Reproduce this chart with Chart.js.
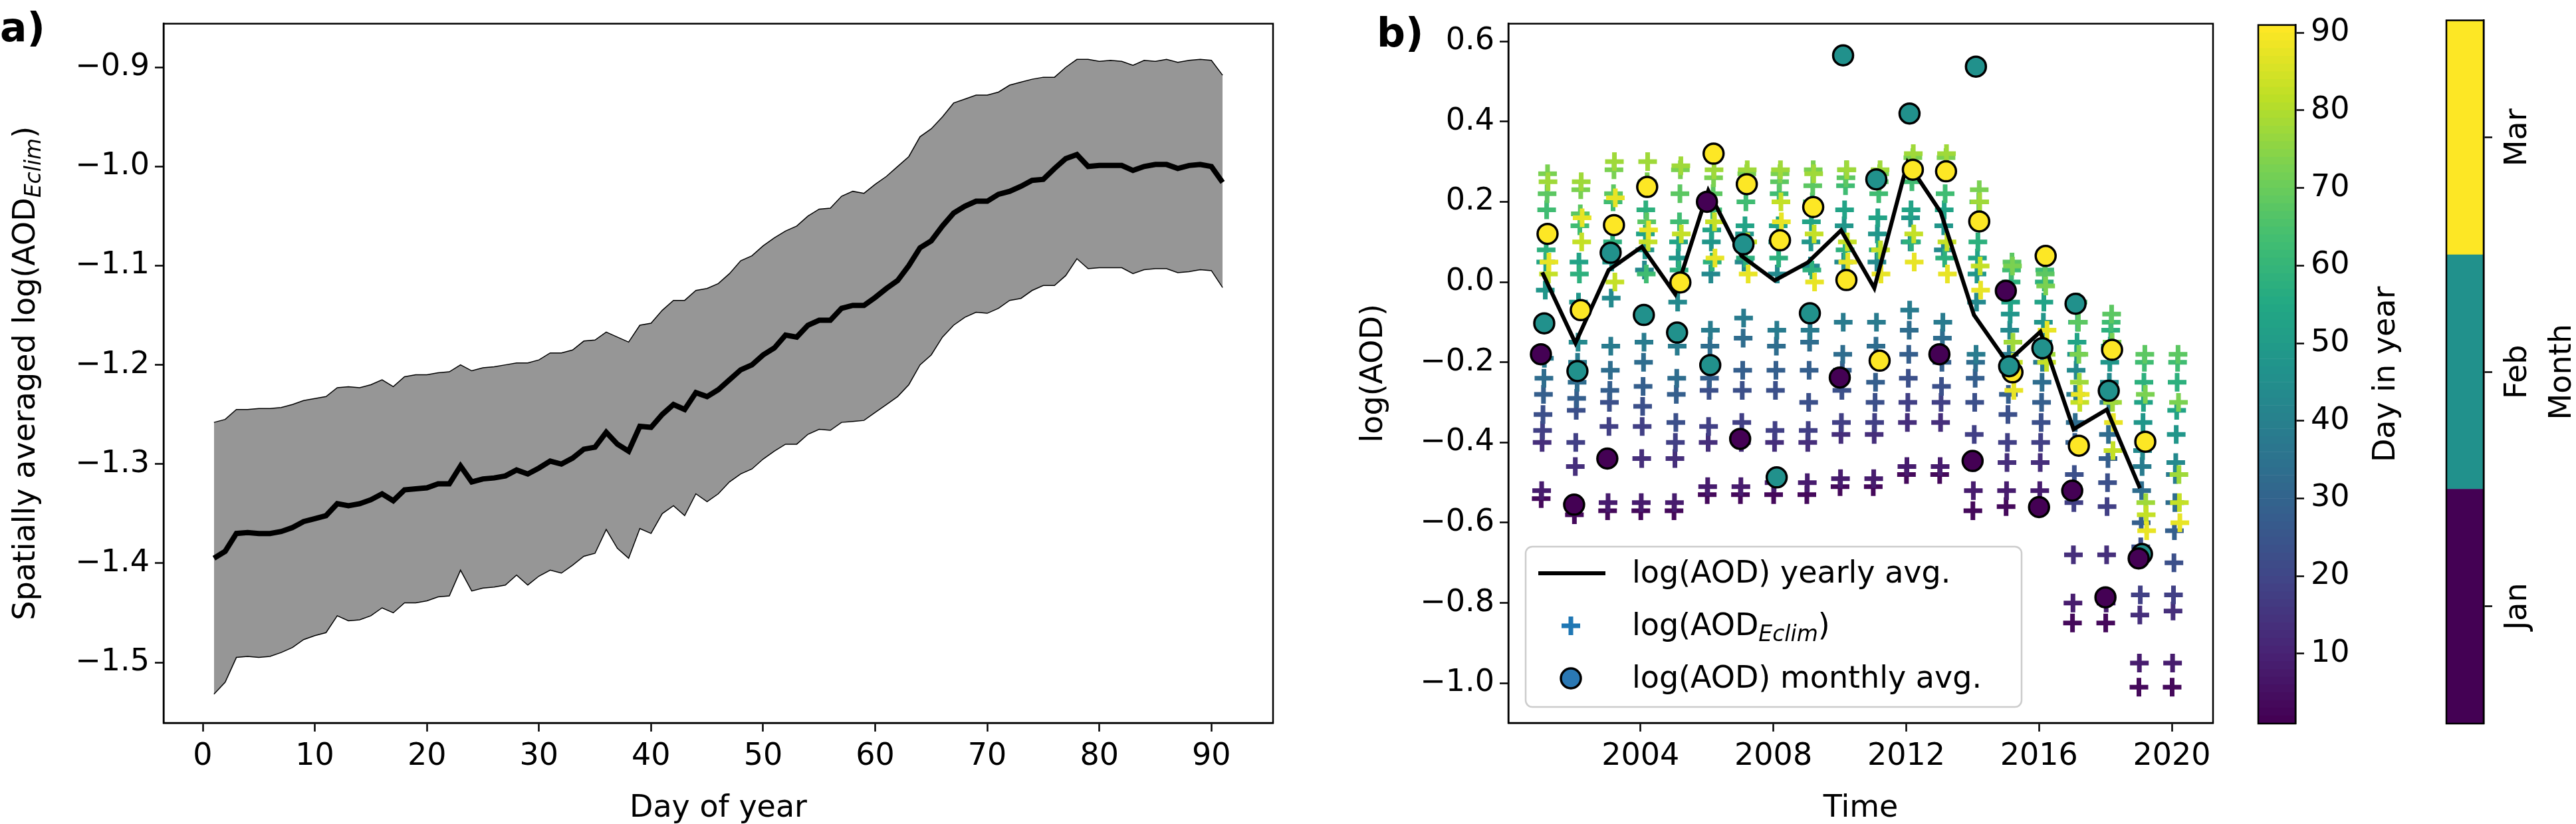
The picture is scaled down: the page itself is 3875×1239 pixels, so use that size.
<!DOCTYPE html>
<html lang="en">
<head>
<meta charset="UTF-8">
<title>log(AOD) climatology</title>
<script src="https://cdn.jsdelivr.net/npm/chart.js"></script>
<style>
  body { margin: 0; background: #fff; }
  #wrap { position: relative; width: 3875px; height: 1239px; }
  canvas { position: absolute; top: 0; }
</style>
</head>
<body>
<div id="wrap">
  <canvas id="chartA" style="left:0px" width="1960" height="1239"></canvas>
  <canvas id="chartB" style="left:2000px" width="1350" height="1239"></canvas>
  <canvas id="cbDay" style="left:3380px" width="250" height="1239"></canvas>
  <canvas id="cbMonth" style="left:3660px" width="215" height="1239"></canvas>
</div>
<script>
// ---- panel a: day-of-year climatology ----
const days = Array.from({length: 91}, (_, i) => i + 1);
const climMean = [-1.395,-1.388,-1.37,-1.369,-1.37,-1.37,-1.368,-1.364,-1.358,-1.355,-1.352,-1.34,-1.342,-1.34,-1.336,-1.33,-1.337,-1.326,-1.325,-1.324,
  -1.32,-1.32,-1.302,-1.318,-1.315,-1.314,-1.312,-1.306,-1.31,-1.304,-1.297,-1.3,-1.294,-1.285,-1.283,-1.268,-1.28,-1.287,-1.262,-1.263,
  -1.25,-1.24,-1.245,-1.228,-1.232,-1.225,-1.215,-1.205,-1.2,-1.19,-1.183,-1.17,-1.172,-1.16,-1.155,-1.155,-1.143,-1.14,-1.14,-1.132,
  -1.123,-1.115,-1.1,-1.082,-1.075,-1.06,-1.047,-1.04,-1.035,-1.035,-1.028,-1.025,-1.02,-1.014,-1.013,-1.002,-0.992,-0.988,-1.0,-0.999,
  -0.999,-0.999,-1.004,-1.0,-0.998,-0.998,-1.002,-0.999,-0.998,-1.0,-1.016];
const climUpper = [-1.258,-1.255,-1.245,-1.245,-1.244,-1.244,-1.243,-1.24,-1.236,-1.234,-1.232,-1.223,-1.222,-1.223,-1.22,-1.215,-1.222,-1.212,-1.21,-1.21,
  -1.208,-1.207,-1.2,-1.206,-1.203,-1.202,-1.2,-1.198,-1.198,-1.195,-1.188,-1.188,-1.185,-1.176,-1.175,-1.167,-1.172,-1.177,-1.16,-1.158,
  -1.145,-1.135,-1.135,-1.125,-1.123,-1.118,-1.108,-1.095,-1.09,-1.08,-1.072,-1.065,-1.06,-1.05,-1.043,-1.042,-1.03,-1.025,-1.027,-1.018,
  -1.01,-1.0,-0.99,-0.97,-0.962,-0.95,-0.936,-0.932,-0.928,-0.928,-0.925,-0.918,-0.915,-0.912,-0.91,-0.91,-0.9,-0.892,-0.892,-0.894,
  -0.893,-0.894,-0.898,-0.893,-0.894,-0.892,-0.895,-0.893,-0.892,-0.893,-0.908];
const climLower = [-1.532,-1.52,-1.495,-1.494,-1.495,-1.494,-1.49,-1.485,-1.477,-1.473,-1.47,-1.453,-1.458,-1.457,-1.453,-1.445,-1.45,-1.44,-1.44,-1.438,
  -1.434,-1.433,-1.407,-1.428,-1.425,-1.424,-1.422,-1.412,-1.422,-1.413,-1.407,-1.41,-1.402,-1.393,-1.39,-1.366,-1.385,-1.395,-1.365,-1.37,
  -1.35,-1.342,-1.352,-1.33,-1.338,-1.33,-1.318,-1.31,-1.305,-1.295,-1.287,-1.28,-1.28,-1.27,-1.265,-1.266,-1.258,-1.257,-1.256,-1.248,
  -1.24,-1.232,-1.22,-1.2,-1.19,-1.172,-1.16,-1.152,-1.147,-1.148,-1.143,-1.135,-1.133,-1.125,-1.12,-1.12,-1.11,-1.093,-1.103,-1.102,
  -1.102,-1.102,-1.108,-1.104,-1.103,-1.103,-1.107,-1.106,-1.104,-1.105,-1.122];
const dayTicks = [0, 10, 20, 30, 40, 50, 60, 70, 80, 90];
const climTicks = [-1.5, -1.4, -1.3, -1.2, -1.1, -1.0, -0.9];

// ---- panel b: yearly series ----
const years = [2001,2002,2003,2004,2005,2006,2007,2008,2009,2010,2011,2012,2013,2014,2015,2016,2017,2018,2019,2020];
const yearlyAvg = [0.024,-0.152,0.03,0.088,-0.03,0.228,0.065,0.004,0.049,0.129,-0.015,0.298,0.174,-0.082,-0.2,-0.124,-0.367,-0.318,-0.514,null];
const janAvg = [-0.18,-0.555,-0.44,null,null,0.2,-0.391,null,null,-0.238,null,null,-0.18,-0.446,-0.022,-0.561,-0.52,-0.786,-0.689,null];
const febAvg = [-0.103,-0.222,0.073,-0.082,-0.126,-0.207,0.094,-0.487,-0.078,0.565,0.256,0.42,null,0.537,-0.21,-0.165,-0.054,-0.271,-0.678,null];
const marAvg = [0.12,-0.07,0.142,0.237,-0.001,0.32,0.244,0.104,0.187,0.005,-0.196,0.28,0.276,0.151,-0.225,0.065,-0.408,-0.169,-0.398,null];
const plusDays = [3, 8, 13, 18, 23, 28, 33, 38, 43, 48, 53, 58, 63, 68, 73, 78, 83, 88];
const plusValues = [
  [-0.54,-0.52,-0.40,-0.37,-0.33,-0.28,-0.24,-0.19,-0.10,-0.02,0.05,0.08,0.18,0.22,0.27,0.25,0.02,0.05],
  [-0.58,-0.56,-0.46,-0.40,-0.32,-0.29,-0.25,-0.20,-0.15,-0.05,0.05,0.02,0.14,0.17,0.23,0.25,0.10,0.16],
  [-0.57,-0.55,-0.44,-0.36,-0.30,-0.27,-0.22,-0.16,-0.04,0.05,0.08,0.10,0.20,0.22,0.28,0.30,0.00,0.21],
  [-0.57,-0.55,-0.44,-0.36,-0.31,-0.26,-0.20,-0.15,0.03,0.08,0.12,0.18,0.02,0.15,0.25,0.30,0.10,0.13],
  [-0.57,-0.55,-0.44,-0.40,-0.35,-0.28,-0.24,-0.16,-0.05,0.06,0.10,0.03,0.15,0.22,0.28,0.29,0.12,0.00],
  [-0.53,-0.51,-0.40,-0.36,-0.27,-0.24,-0.16,-0.12,0.02,0.10,0.13,0.05,0.18,0.22,0.26,0.28,0.15,0.06],
  [-0.53,-0.51,-0.40,-0.35,-0.27,-0.22,-0.14,-0.09,0.05,0.12,0.14,0.06,0.20,0.24,0.27,0.28,0.10,0.02],
  [-0.53,-0.50,-0.40,-0.37,-0.27,-0.22,-0.16,-0.12,0.02,0.10,0.14,0.06,0.22,0.25,0.27,0.28,0.20,0.15],
  [-0.53,-0.50,-0.40,-0.37,-0.30,-0.22,-0.15,-0.12,0.04,0.10,0.15,0.03,0.20,0.24,0.28,0.27,0.12,0.00],
  [-0.51,-0.49,-0.38,-0.35,-0.27,-0.22,-0.18,-0.10,0.05,0.14,0.18,0.08,0.24,0.26,0.28,0.28,0.10,0.05],
  [-0.51,-0.49,-0.38,-0.35,-0.30,-0.25,-0.16,-0.10,0.05,0.12,0.16,0.08,0.22,0.25,0.27,0.28,0.08,0.02],
  [-0.48,-0.46,-0.35,-0.30,-0.24,-0.18,-0.12,-0.07,0.10,0.16,0.18,0.10,0.25,0.28,0.31,0.32,0.12,0.05],
  [-0.48,-0.46,-0.35,-0.30,-0.26,-0.20,-0.14,-0.10,0.08,0.14,0.18,0.06,0.22,0.28,0.31,0.32,0.10,0.02],
  [-0.57,-0.52,-0.45,-0.38,-0.30,-0.24,-0.20,-0.18,-0.05,0.02,0.06,0.10,0.15,0.20,0.23,0.20,0.04,-0.02],
  [-0.56,-0.52,-0.45,-0.40,-0.33,-0.28,-0.22,-0.18,-0.12,-0.08,-0.05,0.00,0.03,0.05,0.04,-0.15,-0.20,-0.27],
  [-0.56,-0.52,-0.45,-0.40,-0.35,-0.30,-0.25,-0.20,-0.15,-0.10,-0.05,0.00,0.03,0.02,-0.01,-0.18,-0.20,-0.12],
  [-0.85,-0.80,-0.68,-0.55,-0.48,-0.40,-0.35,-0.28,-0.22,-0.18,-0.15,-0.10,-0.05,-0.10,-0.18,-0.25,-0.30,-0.28],
  [-0.85,-0.80,-0.68,-0.56,-0.50,-0.44,-0.38,-0.30,-0.25,-0.20,-0.16,-0.12,-0.10,-0.08,-0.15,-0.30,-0.42,-0.35],
  [-1.01,-0.95,-0.83,-0.78,-0.66,-0.60,-0.52,-0.46,-0.42,-0.35,-0.30,-0.25,-0.20,-0.18,-0.28,-0.55,-0.58,-0.62],
  [-1.01,-0.95,-0.82,-0.78,-0.70,-0.62,-0.55,-0.48,-0.45,-0.38,-0.32,-0.25,-0.20,-0.18,-0.30,-0.48,-0.55,-0.60]
];
const yearTicks = [2004, 2008, 2012, 2016, 2020];
const aodTicks = [-1.0, -0.8, -0.6, -0.4, -0.2, 0.0, 0.2, 0.4, 0.6];

// ---- colorbars ----
const dayBarTicks = [10, 20, 30, 40, 50, 60, 70, 80, 90];
const months = ['Jan', 'Feb', 'Mar'];
const monthColors = ['#440154', '#21918c', '#fde725'];

const FONT = "'DejaVu Sans', sans-serif";
Chart.defaults.font.family = FONT;
Chart.defaults.color = '#000';
Chart.defaults.animation = false;
Chart.defaults.devicePixelRatio = 1;
Chart.defaults.plugins.legend.display = false;
Chart.defaults.plugins.tooltip.enabled = false;

const viridisStops = ['#440154','#482475','#414487','#355f8d','#2a788e','#21918c','#22a884','#44bf70','#7ad151','#bddf26','#fde725'];
function viridis(t) {
  t = Math.max(0, Math.min(1, t));
  const p = t * 10, i = Math.min(9, Math.floor(p)), f = p - i;
  const a = viridisStops[i], b = viridisStops[i + 1];
  const c = k => Math.round(parseInt(a.substr(k, 2), 16) * (1 - f) + parseInt(b.substr(k, 2), 16) * f);
  return `rgb(${c(1)},${c(3)},${c(5)})`;
}
const minus = v => (v < 0 ? '\u2212' : '') + Math.abs(v).toFixed(1);
const setTicks = list => scale => { scale.ticks = list.map(v => ({value: v})); };

// frame + extra text
function framePlugin(drawText) {
  return {
    id: 'frame',
    afterDatasetsDraw(chart) {
      const {ctx, chartArea: a} = chart;
      ctx.save();
      ctx.strokeStyle = '#000';
      ctx.lineWidth = 2.5;
      ctx.strokeRect(a.left, a.top, a.right - a.left, a.bottom - a.top);
      ctx.restore();
    },
    afterDraw(chart) { if (drawText) drawText(chart.ctx, chart); }
  };
}
function rotText(ctx, parts, x, y) {
  // parts: [text, font, dy]
  ctx.save();
  ctx.translate(x, y);
  ctx.rotate(-Math.PI / 2);
  ctx.fillStyle = '#000';
  ctx.textBaseline = 'middle';
  let total = 0;
  parts.forEach(p => { ctx.font = p[1]; total += ctx.measureText(p[0]).width; });
  let cx = -total / 2;
  parts.forEach(p => { ctx.font = p[1]; ctx.fillText(p[0], cx, p[2] || 0); cx += ctx.measureText(p[0]).width; });
  ctx.restore();
}
const axisCommon = {
  grid: {drawOnChartArea: false, tickLength: 13, tickWidth: 2.5, color: '#000'},
  border: {color: '#000', width: 2.5}
};

// ---- chart a ----
new Chart(document.getElementById('chartA'), {
  type: 'line',
  data: {
    datasets: [
      {order: 3, data: days.map((d, i) => ({x: d, y: climLower[i]})), borderColor: '#000', borderWidth: 1.5, pointRadius: 0, fill: false},
      {order: 2, data: days.map((d, i) => ({x: d, y: climUpper[i]})), borderColor: '#000', borderWidth: 1.5, pointRadius: 0, fill: '-1', backgroundColor: '#969696'},
      {order: 0, data: days.map((d, i) => ({x: d, y: climMean[i]})), borderColor: '#000', borderWidth: 8, pointRadius: 0, fill: false}
    ]
  },
  options: {
    responsive: false,
    plugins: {filler: {drawTime: 'beforeDatasetsDraw'}},
    layout: {padding: {top: 2, right: 45, left: 0, bottom: 0}},
    scales: {
      x: {type: 'linear', min: -3.5, max: 95.5, afterBuildTicks: setTicks(dayTicks),
          afterFit: s => { s.height = 152; },
          ticks: {font: {size: 46}, padding: 10, maxRotation: 0}, ...axisCommon},
      y: {type: 'linear', min: -1.561, max: -0.856, afterBuildTicks: setTicks(climTicks),
          afterFit: s => { s.width = 246; },
          ticks: {font: {size: 46}, padding: 8, callback: minus}, ...axisCommon}
    }
  },
  plugins: [framePlugin((ctx, chart) => {
    ctx.save();
    ctx.fillStyle = '#000';
    ctx.font = `bold 60px ${FONT}`;
    ctx.textBaseline = 'alphabetic';
    ctx.fillText('a)', 0, 62);
    ctx.font = `46px ${FONT}`;
    ctx.textAlign = 'center';
    ctx.fillText('Day of year', (chart.chartArea.left + chart.chartArea.right) / 2, 1228);
    ctx.restore();
    rotText(ctx, [['Spatially averaged log(AOD', `46px ${FONT}`], ['Eclim', `italic 33px ${FONT}`, 12], [')', `46px ${FONT}`]],
      40, (chart.chartArea.top + chart.chartArea.bottom) / 2);
  })]
});

// ---- chart b ----
const plusPoints = [], plusColors = [];
years.forEach((yr, yi) => plusDays.forEach((d, di) => {
  plusPoints.push({x: yr + d / 365, y: plusValues[yi][di]});
  plusColors.push(viridis((d - 1) / 90));
}));
const monthSet = (vals, off, color) => ({
  type: 'scatter', order: 1,
  data: years.map((yr, i) => vals[i] === null ? null : {x: yr + off, y: vals[i]}).filter(p => p),
  pointRadius: 15, pointBackgroundColor: color, pointBorderColor: '#000', pointBorderWidth: 3.5
});

new Chart(document.getElementById('chartB'), {
  type: 'scatter',
  data: {
    datasets: [
      {type: 'scatter', order: 3, data: plusPoints, pointStyle: 'cross', pointRadius: 14,
       pointBorderColor: plusColors, pointBorderWidth: 7},
      {type: 'line', order: 2, data: years.map((yr, i) => ({x: yr + 0.04, y: yearlyAvg[i]})).filter(p => p.y !== null),
       borderColor: '#000', borderWidth: 6, pointRadius: 0, fill: false, tension: 0},
      monthSet(janAvg, 0.0, monthColors[0]),
      monthSet(febAvg, 0.1, monthColors[1]),
      monthSet(marAvg, 0.2, monthColors[2])
    ]
  },
  options: {
    responsive: false,
    layout: {padding: {top: 9, right: 19, left: 0, bottom: 0}},
    scales: {
      x: {type: 'linear', min: 2000.02, max: 2021.24, afterBuildTicks: setTicks(yearTicks),
          afterFit: s => { s.height = 152; },
          ticks: {font: {size: 46}, padding: 10, maxRotation: 0, callback: v => String(v)}, ...axisCommon},
      y: {type: 'linear', min: -1.099, max: 0.644, afterBuildTicks: setTicks(aodTicks),
          afterFit: s => { s.width = 269; },
          ticks: {font: {size: 46}, padding: 8, callback: minus}, ...axisCommon}
    }
  },
  plugins: [framePlugin((ctx, chart) => {
    const ox = 2000;
    ctx.save();
    ctx.fillStyle = '#000';
    ctx.font = `bold 60px ${FONT}`;
    ctx.fillText('b)', 2071 - ox, 70);
    ctx.font = `46px ${FONT}`;
    ctx.textAlign = 'center';
    ctx.fillText('Time', (chart.chartArea.left + chart.chartArea.right) / 2, 1228);
    ctx.restore();
    rotText(ctx, [['log(AOD)', `46px ${FONT}`]], 2067 - ox, (chart.chartArea.top + chart.chartArea.bottom) / 2);
    // legend
    const L = 2295 - ox, T = 822, W = 746, H = 241;
    ctx.save();
    ctx.beginPath();
    ctx.roundRect(L, T, W, H, 10);
    ctx.fillStyle = 'rgba(255,255,255,0.8)';
    ctx.fill();
    ctx.strokeStyle = '#cccccc';
    ctx.lineWidth = 2.5;
    ctx.stroke();
    ctx.strokeStyle = '#000';
    ctx.lineWidth = 6;
    ctx.beginPath(); ctx.moveTo(2314 - ox, 862); ctx.lineTo(2415 - ox, 862); ctx.stroke();
    ctx.strokeStyle = '#1f77b4';
    ctx.lineWidth = 7;
    const px = 2363 - ox;
    ctx.beginPath(); ctx.moveTo(px - 14, 941); ctx.lineTo(px + 14, 941); ctx.moveTo(px, 927); ctx.lineTo(px, 955); ctx.stroke();
    ctx.beginPath(); ctx.arc(px, 1020, 15, 0, Math.PI * 2);
    ctx.fillStyle = '#2a78b4'; ctx.fill();
    ctx.strokeStyle = '#000'; ctx.lineWidth = 3.5; ctx.stroke();
    ctx.fillStyle = '#000';
    ctx.textBaseline = 'middle';
    const tx = 2455 - ox;
    ctx.font = `46px ${FONT}`;
    ctx.fillText('log(AOD) yearly avg.', tx, 864);
    let w = 0;
    ctx.fillText('log(AOD', tx, 943); w = ctx.measureText('log(AOD').width;
    ctx.font = `italic 33px ${FONT}`;
    ctx.fillText('Eclim', tx + w, 955); w += ctx.measureText('Eclim').width;
    ctx.font = `46px ${FONT}`;
    ctx.fillText(')', tx + w, 943);
    ctx.fillText('log(AOD) monthly avg.', tx, 1022);
    ctx.restore();
  })]
});

// ---- colorbar: day in year ----
const daySegs = Array.from({length: 90}, (_, i) => i + 1);
new Chart(document.getElementById('cbDay'), {
  type: 'bar',
  data: {
    labels: [''],
    datasets: daySegs.map(d => ({data: [[d, d + 1]], backgroundColor: viridis((d - 1) / 89), borderWidth: 0,
      barPercentage: 1, categoryPercentage: 1}))
  },
  options: {
    responsive: false,
    layout: {padding: {top: 9, left: 17, right: 0, bottom: 151}},
    scales: {
      x: {display: false, stacked: true},
      y: {position: 'right', min: 1, max: 91, afterBuildTicks: setTicks(dayBarTicks),
          afterFit: s => { s.width = 177; },
          ticks: {font: {size: 46}, padding: 10}, ...axisCommon}
    }
  },
  plugins: [framePlugin((ctx, chart) => {
    rotText(ctx, [['Day in year', `46px ${FONT}`]], 3590 - 3380, (chart.chartArea.top + chart.chartArea.bottom) / 2);
  })]
});

// ---- colorbar: month ----
new Chart(document.getElementById('cbMonth'), {
  type: 'bar',
  data: {
    labels: [''],
    datasets: months.map((m, i) => ({data: [[i, i + 1]], backgroundColor: monthColors[i], borderWidth: 0,
      barPercentage: 1, categoryPercentage: 1}))
  },
  options: {
    responsive: false,
    layout: {padding: {top: 9, left: 20, right: 0, bottom: 151}},
    scales: {
      x: {display: false, stacked: true},
      y: {position: 'right', min: 0, max: 3, afterBuildTicks: setTicks([0.5, 1.5, 2.5]),
          afterFit: s => { s.width = 139; },
          ticks: {font: {size: 46}, callback: () => ''}, ...axisCommon}
    }
  },
  plugins: [framePlugin((ctx, chart) => {
    const y = chart.scales.y;
    months.forEach((m, i) => rotText(ctx, [[m, `46px ${FONT}`]], 3788 - 3660, y.getPixelForValue(i + 0.5)));
    rotText(ctx, [['Month', `46px ${FONT}`]], 3855 - 3660, (chart.chartArea.top + chart.chartArea.bottom) / 2);
  })]
});
</script>
</body>
</html>
